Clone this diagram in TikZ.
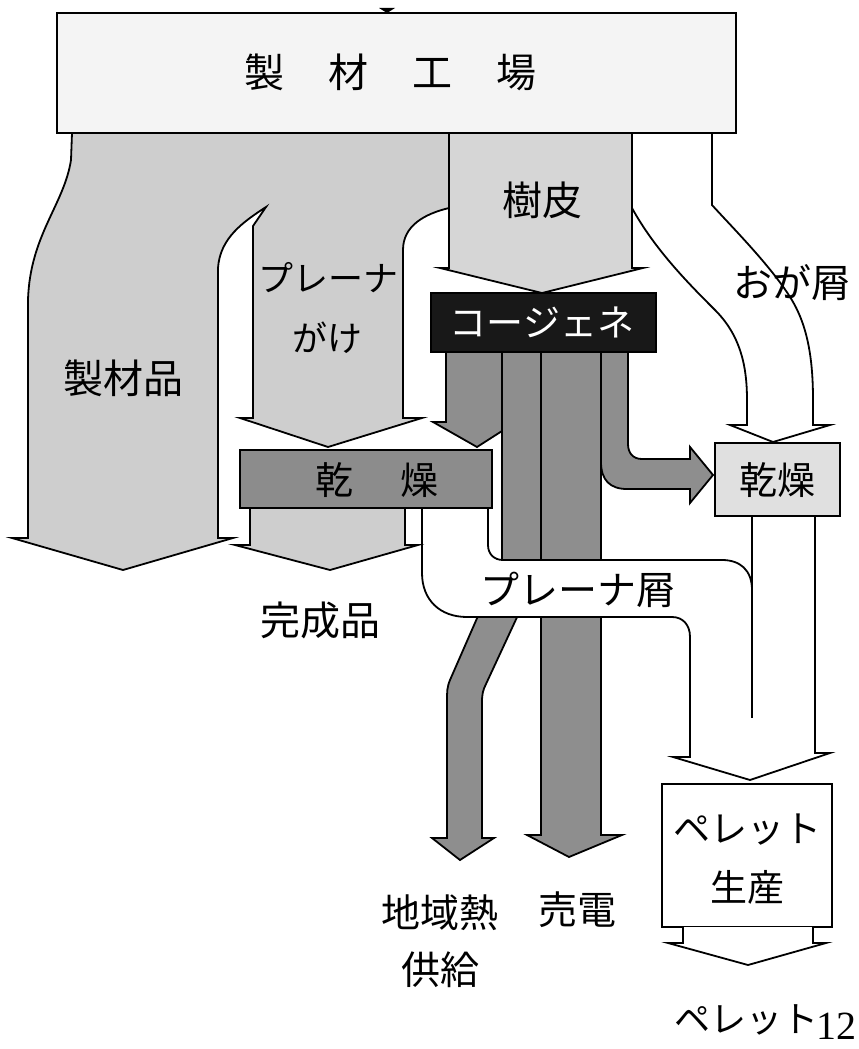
\documentclass[tikz,border=0pt]{standalone}
\usepackage{fontspec}
\setmainfont{Liberation Serif}
\newfontfamily\jp{Noto Sans CJK JP}
\definecolor{topfill}{RGB}{244,244,244}
\definecolor{gA}{RGB}{206,206,206}
\definecolor{gB}{RGB}{214,214,214}
\definecolor{gC}{RGB}{142,142,142}
\definecolor{gD}{RGB}{140,140,140}
\definecolor{gE}{RGB}{224,224,224}
\definecolor{cogen}{RGB}{24,24,24}
\newcommand\fsz[1]{\fontsize{#1}{#1}\selectfont}
\begin{document}
\begin{tikzpicture}[x=1pt,y=-1pt,
  flow/.style={draw=black, line width=1.8pt, line join=miter},
  lab/.style={inner sep=0pt, font=\jp\fsz{40}, align=center}]
\useasboundingbox (0,0) rectangle (859,1049);

% おが屑 band (under the top box)
\draw[flow, fill=white] (632,133) -- (632,208) .. controls (655,250) and (690,285) .. (715,310)
  .. controls (740,335) and (747,365) .. (747,400) -- (747,425) -- (730,425) -- (773,442)
  -- (830,425) -- (813,425) -- (813,400) .. controls (813,360) and (808,325) .. (790,297)
  .. controls (770,265) and (730,225) .. (712,205) -- (712,133) -- cycle;

% 製材品 + プレーナがけ region
\draw[flow, fill=gA] (72,133) -- (71,160) .. controls (64,205) and (30,235) .. (28,300)
  -- (28,538) -- (12,538) -- (123,570) -- (233,538) -- (218,538) -- (218,268)
  .. controls (220,238) and (243,222) .. (266,207) -- (253,226) -- (253,418) -- (240,418)
  -- (328,447) -- (422,418) -- (403,418) -- (403,250) .. controls (403,226) and (424,214) .. (449,208)
  -- (449,133) -- cycle;

% 樹皮 arrow
\draw[flow, fill=gB] (449,133) -- (449,268) -- (440,268) -- (542,293) -- (643,268) -- (632,268) -- (632,133) -- cycle;

% top box
\draw[flow, fill=topfill, line width=2pt] (57,13) rectangle (736,133);
\fill (379,8) -- (395,8) -- (387,13) -- cycle;

% streams from cogeneration
\draw[flow, fill=gC] (446,352) -- (446,422) -- (433,422) -- (477,447) -- (502,431) -- (502,352) -- cycle;
\draw[flow, fill=gC] (502,352) rectangle (541,580);
\draw[flow, fill=gC] (541,352) rectangle (601,580);
\draw[flow, fill=gC] (601,352) -- (601,462) .. controls (601,480) and (610,489) .. (627,489) -- (690,489)
  -- (690,503) -- (713,475) -- (690,447) -- (690,459) -- (642,459) .. controls (633,459) and (628,453) .. (628,444)
  -- (628,352) -- cycle;

% 地域熱供給 and 売電 arrows
\draw[flow, fill=gC] (485,600) -- (450,680) .. controls (447,687) and (447,692) .. (447,700) -- (447,838)
  -- (432,838) -- (460,860) -- (494,838) -- (482,838) -- (482,702) .. controls (482,694) and (483,690) .. (486,684)
  -- (525,600) -- cycle;
\draw[flow, fill=gC] (541,600) -- (541,835) -- (527,835) -- (569,857) -- (622,835) -- (601,835) -- (601,600) -- cycle;

% プレーナ屑 band and merged arrow to pellet production
\fill[white] (422,508) -- (422,573) .. controls (422,600) and (440,617) .. (467,617) -- (672,617)
  .. controls (683,617) and (690,625) .. (690,637) -- (690,757) -- (673,757) -- (750,780) -- (830,753)
  -- (815,753) -- (815,516) -- (752,516) -- (752,590) .. controls (752,570) and (740,560) .. (722,560)
  -- (503,560) .. controls (494,560) and (488,554) .. (488,545) -- (488,508) -- cycle;
\draw[flow] (422,508) -- (422,573) .. controls (422,600) and (440,617) .. (467,617) -- (672,617)
  .. controls (683,617) and (690,625) .. (690,637) -- (690,757) -- (673,757) -- (750,780) -- (830,753)
  -- (815,753) -- (815,516);
\draw[flow] (488,508) -- (488,545) .. controls (488,554) and (494,560) .. (503,560) -- (722,560)
  .. controls (740,560) and (752,570) .. (752,590);
\draw[flow] (752,516) -- (752,718);

% 完成品 arrow
\draw[flow, fill=gA] (250,500) -- (250,545) -- (235,545) -- (330,570) -- (418,545) -- (405,545) -- (405,500) -- cycle;

% boxes
\draw[flow, fill=gD] (240,450) rectangle (492,508);
\draw[flow, fill=gE] (715,443) rectangle (840,516);
\draw[flow, fill=cogen] (431,293) rectangle (656,352);
\draw[flow, fill=white] (662,784) rectangle (832,927);
\draw[flow, fill=white] (683,927) -- (683,943) -- (668,943) -- (748,965) -- (826,943) -- (813,943) -- (813,927);

% labels
\node[lab] (mill) at (390,72) {製\hspace{44pt}材\hspace{44pt}工\hspace{44pt}場};
\node[lab] (lumber) at (123,378) {製材品};
\node[lab, font=\jp\fsz{35}] (planing) at (328,278) {プレーナ};
\node[lab, font=\jp\fsz{35}] (planing2) at (327,338) {がけ};
\node[lab] (bark) at (542,200) {樹皮};
\node[lab, font=\jp\fsz{39}] (sawdust) at (792,283) {おが屑};
\node[lab, font=\jp\fsz{37}, text=white] (chp) at (542,322) {コージェネ};
\node[lab, font=\jp\fsz{38}] (dryL) at (377,480) {乾\hspace{48pt}燥};
\node[lab, font=\jp\fsz{38}] (dryR) at (777,480) {乾燥};
\node[lab] (product) at (320,620) {完成品};
\node[lab, font=\jp\fsz{39}] (shav) at (578,590) {プレーナ屑};
\node[lab, font=\jp\fsz{39}] (heat) at (440,913) {地域熱};
\node[lab, font=\jp\fsz{39}] (heat2) at (440,970) {供給};
\node[lab, font=\jp\fsz{39}] (power) at (577,910) {売電};
\node[lab, font=\jp\fsz{37}] (pelprod) at (747,830) {ペレット};
\node[lab, font=\jp\fsz{37}] (pelprod2) at (747,887) {生産};
\node[lab, font=\jp\fsz{36}] (pellet) at (746,1020) {ペレット};
\node[inner sep=0pt, font=\fsz{40}, anchor=east] (pagenum) at (857,1026) {12};
\end{tikzpicture}
\end{document}
